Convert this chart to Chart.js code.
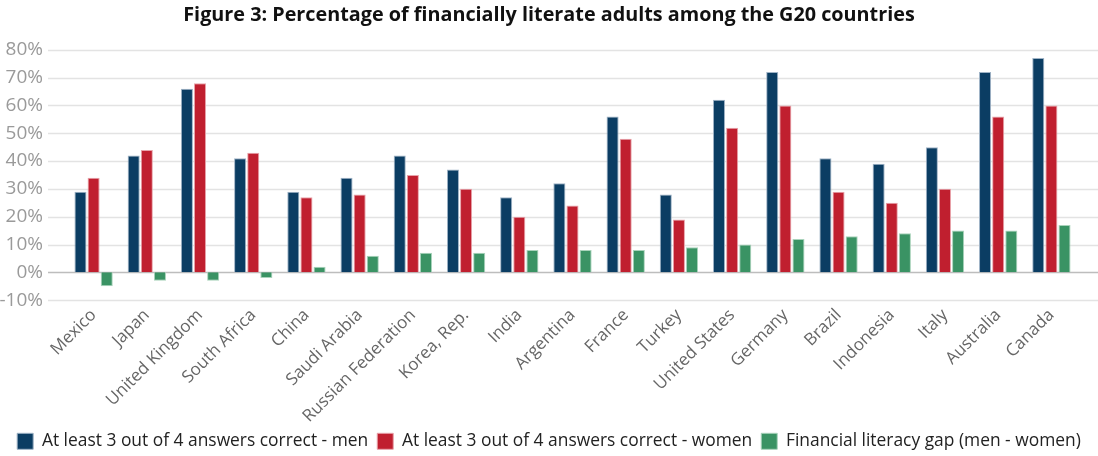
<!DOCTYPE html>
<html lang="en">

<head>
    <meta charset="UTF-8" />
    <title>Financial literacy in the G20</title>
    <script src="https://cdn.jsdelivr.net/npm/chart.js@4.4.1/dist/chart.umd.min.js"></script>
    <style>
        body { margin: 0; background: #fff; }
        #wrap { width: 1098px; height: 456px; }
    </style>
</head>

<body>
    <div id="wrap"><canvas id="myChart" width="1098" height="456"></canvas></div>

    <script>
        const countries = ['Mexico', 'Japan', 'United Kingdom', 'South Africa', 'China', 'Saudi Arabia',
            'Russian Federation', 'Korea, Rep.', 'India', 'Argentina', 'France', 'Turkey', 'United States',
            'Germany', 'Brazil', 'Indonesia', 'Italy', 'Australia', 'Canada'];
        const men = [29, 42, 66, 41, 29, 34, 42, 37, 27, 32, 56, 28, 62, 72, 41, 39, 45, 72, 77];
        const women = [34, 44, 68, 43, 27, 28, 35, 30, 20, 24, 48, 19, 52, 60, 29, 25, 30, 56, 60];
        const gap = [-5, -3, -3, -2, 2, 6, 7, 7, 8, 8, 8, 9, 10, 12, 13, 14, 15, 15, 17];
        const yTicks = [-10, 0, 10, 20, 30, 40, 50, 60, 70, 80];

        const FONT = "'Open Sans', sans-serif";

        // horizontal grid lines run wider than the category area
        const wideGrid = {
            id: 'wideGrid',
            beforeDatasetsDraw(chart) {
                const ctx = chart.ctx;
                const y = chart.scales.y;
                ctx.save();
                yTicks.forEach(v => {
                    const py = Math.round(y.getPixelForValue(v)) + 0.5;
                    ctx.strokeStyle = v === 0 ? '#bdbdbd' : '#e3e3e3';
                    ctx.lineWidth = 1.5;
                    ctx.beginPath();
                    ctx.moveTo(48, py);
                    ctx.lineTo(1098, py);
                    ctx.stroke();
                });
                ctx.restore();
            }
        };

        const ctx = document.getElementById('myChart').getContext('2d');
        const myChart = new Chart(ctx, {
            type: 'bar',
            data: {
                labels: countries,
                datasets: [{
                    label: 'At least 3 out of 4 answers correct - men',
                    data: men,
                    backgroundColor: '#0b3d63',
                    borderColor: '#9fb3c6',
                    borderWidth: 1
                }, {
                    label: 'At least 3 out of 4 answers correct - women',
                    data: women,
                    backgroundColor: '#c01f2f',
                    borderColor: '#e8a3aa',
                    borderWidth: 1
                }, {
                    label: 'Financial literacy gap (men - women)',
                    data: gap,
                    backgroundColor: '#3a9364',
                    borderColor: '#a9d3bb',
                    borderWidth: 1
                }]
            },
            options: {
                responsive: false,
                animation: false,
                layout: { padding: { left: 0, right: 0, top: 0, bottom: -4 } },
                categoryPercentage: 0.74,
                barPercentage: 0.92,
                plugins: {
                    title: {
                        display: true,
                        text: 'Figure 3: Percentage of financially literate adults among the G20 countries',
                        color: '#111',
                        font: { family: FONT, size: 19.8, weight: 'bold' },
                        padding: { top: 3, bottom: 23 }
                    },
                    legend: {
                        position: 'bottom',
                        labels: {
                            color: '#222',
                            font: { family: FONT, size: 17.4 },
                            boxWidth: 16,
                            boxHeight: 16,
                            padding: 9
                        }
                    },
                    tooltip: { enabled: false }
                },
                scales: {
                    x: {
                        grid: { display: false },
                        border: { display: false },
                        ticks: {
                            color: '#666',
                            font: { family: FONT, size: 17 },
                            minRotation: 45,
                            maxRotation: 45,
                            padding: -3
                        }
                    },
                    y: {
                        min: -10,
                        max: 80,
                        afterFit(scale) { scale.width = 67; },
                        grid: { display: false, drawTicks: false },
                        border: { display: false },
                        ticks: {
                            stepSize: 10,
                            autoSkip: false,
                            color: '#9a9a9a',
                            font: { family: FONT, size: 19 },
                            padding: 24,
                            callback: v => v + '%'
                        }
                    },
                    // empty axis that keeps a margin on the right of the bars
                    yRight: {
                        position: 'right',
                        afterFit(scale) { scale.width = 20; },
                        grid: { display: false },
                        border: { display: false },
                        ticks: { display: false }
                    }
                }
            },
            plugins: [wideGrid]
        });
    </script>
</body>

</html>
